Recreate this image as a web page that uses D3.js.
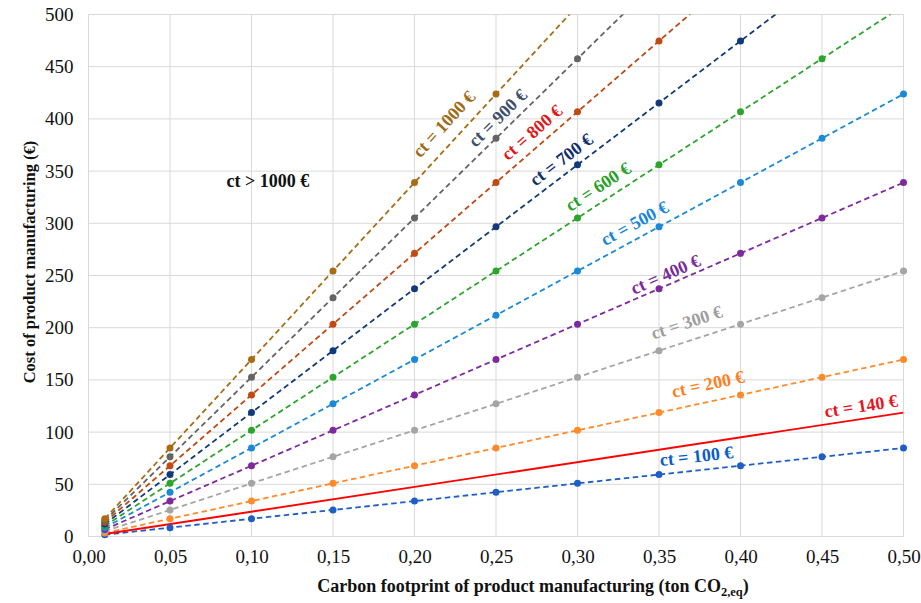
<!DOCTYPE html>
<html>
<head>
<meta charset="utf-8">
<script src="https://cdn.jsdelivr.net/npm/d3@7"></script>
<style>
  body { margin: 0; background: #fff; }
  svg text { font-family: 'Liberation Serif', 'Times New Roman', Tinos, 'DejaVu Serif', serif !important; }
</style>
</head>
<body>
<svg id="chart" width="921" height="603"></svg>
<script>
// - - - - - - - - - - data
const footprint = [0.01, 0.05, 0.10, 0.15, 0.20, 0.25, 0.30, 0.35, 0.40, 0.45, 0.50];

const ct100  = [1.7, 8.5, 17.0, 25.4, 33.9, 42.4, 50.9, 59.3, 67.8, 76.3, 84.8];
const ct200  = [3.4, 17.0, 33.9, 50.9, 67.8, 84.8, 101.7, 118.7, 135.6, 152.6, 169.5];
const ct300  = [5.1, 25.4, 50.9, 76.3, 101.7, 127.1, 152.6, 178.0, 203.4, 228.8, 254.3];
const ct400  = [6.8, 33.9, 67.8, 101.7, 135.6, 169.5, 203.4, 237.3, 271.2, 305.1, 339.0];
const ct500  = [8.5, 42.4, 84.8, 127.1, 169.5, 211.9, 254.3, 296.6, 339.0, 381.4, 423.8];
const ct600  = [10.2, 50.9, 101.7, 152.6, 203.4, 254.3, 305.1, 356.0, 406.8, 457.7, 508.5];
const ct700  = [11.9, 59.3, 118.7, 178.0, 237.3, 296.6, 356.0, 415.3, 474.6, 533.9, 593.3];
const ct800  = [13.6, 67.8, 135.6, 203.4, 271.2, 339.0, 406.8, 474.6, 542.4, 610.2, 678.0];
const ct900  = [15.3, 76.3, 152.6, 228.8, 305.1, 381.4, 457.7, 533.9, 610.2, 686.4, 762.8];
const ct1000 = [17.0, 84.8, 169.5, 254.3, 339.0, 423.8, 508.5, 593.3, 678.0, 762.8, 847.5];

// threshold line (no markers), two end points
const ct140x = [0.01, 0.50];
const ct140  = [2.4, 118.7];

const xTicks = [0, 0.05, 0.10, 0.15, 0.20, 0.25, 0.30, 0.35, 0.40, 0.45, 0.50];
const yTicks = [0, 50, 100, 150, 200, 250, 300, 350, 400, 450, 500];

// - - - - - - - - - - series styling
const series = [
  { name: 'ct = 100 €',  values: ct100,  line: '#1f5ec4', text: '#0a5ec8' },
  { name: 'ct = 200 €',  values: ct200,  line: '#ff8a2a', text: '#ff7f1e' },
  { name: 'ct = 300 €',  values: ct300,  line: '#a5a5a5', text: '#9e9e9e' },
  { name: 'ct = 400 €',  values: ct400,  line: '#7f2a9c', text: '#7a2a9a' },
  { name: 'ct = 500 €',  values: ct500,  line: '#1a8ad6', text: '#1a86d6' },
  { name: 'ct = 600 €',  values: ct600,  line: '#2ca52c', text: '#2aa02a' },
  { name: 'ct = 700 €',  values: ct700,  line: '#123a7a', text: '#102e6e' },
  { name: 'ct = 800 €',  values: ct800,  line: '#c04a14', text: '#e01818' },
  { name: 'ct = 900 €',  values: ct900,  line: '#646464', text: '#3c4e6e' },
  { name: 'ct = 1000 €', values: ct1000, line: '#a86c14', text: '#a06a14' }
];

// label anchors (data coordinates) for each line label
const labelAt = {
  'ct = 100 €':  [0.373, 77],
  'ct = 140 €':  [0.474, 125],
  'ct = 200 €':  [0.380, 146],
  'ct = 300 €':  [0.367, 205],
  'ct = 400 €':  [0.354, 251],
  'ct = 500 €':  [0.335, 300],
  'ct = 600 €':  [0.3126, 335],
  'ct = 700 €':  [0.290, 361],
  'ct = 800 €':  [0.272, 387],
  'ct = 900 €':  [0.251, 401],
  'ct = 1000 €': [0.218, 395]
};

// - - - - - - - - - - layout
const svg = d3.select('#chart');
const m = { left: 88.5, top: 14.5, right: 17.5, bottom: 66.5 };
const W = 921 - m.left - m.right;
const H = 603 - m.top - m.bottom;

const x = d3.scaleLinear().domain([0, 0.5]).range([0, W]);
const y = d3.scaleLinear().domain([0, 500]).range([H, 0]);

const g = svg.append('g').attr('transform', `translate(${m.left},${m.top})`);

svg.append('clipPath').attr('id', 'plot-clip')
  .append('rect').attr('x', 0).attr('y', 0).attr('width', W).attr('height', H);

// gridlines
g.append('g')
  .selectAll('line.h')
  .data(yTicks)
  .join('line')
  .attr('x1', 0).attr('x2', W)
  .attr('y1', d => y(d)).attr('y2', d => y(d))
  .attr('stroke', '#d9d9d9').attr('stroke-width', 1);

g.append('g')
  .selectAll('line.v')
  .data(xTicks)
  .join('line')
  .attr('x1', d => x(d)).attr('x2', d => x(d))
  .attr('y1', 0).attr('y2', H)
  .attr('stroke', '#d9d9d9').attr('stroke-width', 1);

// axes (text only)
const fmtX = d => d3.format('.2f')(d).replace('.', ',');

const xAxis = g.append('g')
  .attr('transform', `translate(0,${H})`)
  .call(d3.axisBottom(x).tickValues(xTicks).tickFormat(fmtX).tickSize(0).tickPadding(13));
const yAxis = g.append('g')
  .call(d3.axisLeft(y).tickValues(yTicks).tickSize(0).tickPadding(15));

[xAxis, yAxis].forEach(a => {
  a.select('.domain').remove();
  a.selectAll('text')
    .attr('font-size', 19)
    .attr('fill', '#111');
});

// lines
const plot = g.append('g').attr('clip-path', 'url(#plot-clip)');
const line = d3.line().x(d => x(d[0])).y(d => y(d[1]));

series.forEach(s => {
  const pts = footprint.map((f, i) => [f, s.values[i]]);
  plot.append('path')
    .datum(pts)
    .attr('d', line)
    .attr('fill', 'none')
    .attr('stroke', s.line)
    .attr('stroke-width', 1.8)
    .attr('stroke-dasharray', '5.5,3.5');
});

plot.append('path')
  .datum(ct140x.map((f, i) => [f, ct140[i]]))
  .attr('d', line)
  .attr('fill', 'none')
  .attr('stroke', '#ff0000')
  .attr('stroke-width', 1.9);

// markers, drawn after the lines
series.forEach(s => {
  const pts = footprint.map((f, i) => [f, s.values[i]]).filter(d => d[1] <= 500);
  g.append('g')
    .selectAll('circle')
    .data(pts)
    .join('circle')
    .attr('cx', d => x(d[0]))
    .attr('cy', d => y(d[1]))
    .attr('r', 3.5)
    .attr('fill', s.line);
});

// line labels, rotated to follow each line
function slopeAngle(xs, vs) {
  const n = xs.length - 1;
  const dx = x(xs[n]) - x(xs[0]);
  const dy = y(vs[n]) - y(vs[0]);
  return Math.atan2(dy, dx) * 180 / Math.PI;
}

const allLabels = series.map(s => ({ name: s.name, color: s.text, angle: slopeAngle(footprint, s.values) }));
allLabels.push({ name: 'ct = 140 €', color: '#e8141c', angle: slopeAngle(ct140x, ct140) });

allLabels.forEach(l => {
  const p = labelAt[l.name];
  g.append('text')
    .attr('transform', `translate(${x(p[0])},${y(p[1])}) rotate(${l.angle})`)
    .attr('text-anchor', 'middle')
    .attr('dominant-baseline', 'central')
    .attr('font-size', 18)
    .attr('font-weight', 'bold')
    .attr('fill', l.color)
    .text(l.name);
});

g.append('text')
  .attr('x', x(0.110)).attr('y', y(340.5))
  .attr('text-anchor', 'middle')
  .attr('dominant-baseline', 'central')
  .attr('font-size', 18)
  .attr('font-weight', 'bold')
  .attr('fill', '#111')
  .text('ct > 1000 €');

// axis titles
const xt = svg.append('text')
  .attr('x', 533).attr('y', 592)
  .attr('text-anchor', 'middle')
  .attr('font-size', 18)
  .attr('font-weight', 'bold')
  .attr('fill', '#111');
xt.append('tspan').text('Carbon footprint of product manufacturing (ton CO');
xt.append('tspan').attr('font-size', 12.5).attr('dy', 4).text('2,eq');
xt.append('tspan').attr('dy', -4).text(')');

svg.append('text')
  .attr('transform', 'translate(35,262) rotate(-90)')
  .attr('text-anchor', 'middle')
  .attr('font-size', 16.5)
  .attr('font-weight', 'bold')
  .attr('fill', '#111')
  .text('Cost of product manufacturing (€)');
</script>
</body>
</html>
